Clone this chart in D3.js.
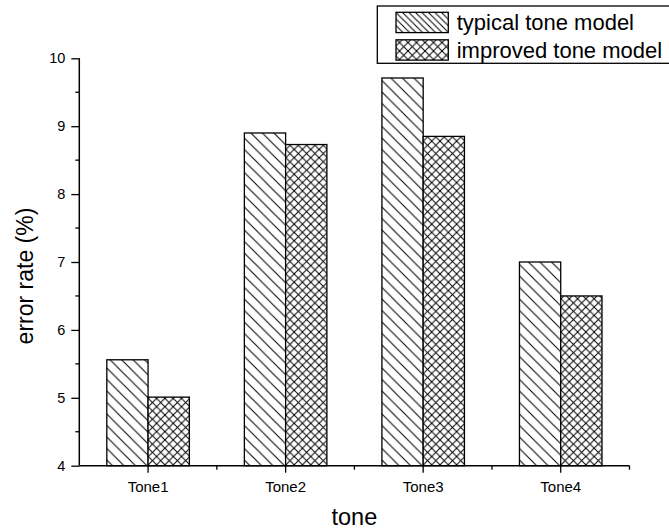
<!DOCTYPE html>
<html>
<head>
<meta charset="utf-8">
<script src="https://cdn.jsdelivr.net/npm/d3@7"></script>
<style>
  html, body { margin: 0; padding: 0; background: #fff; }
  svg { display: block; font-family: Arial, "Liberation Sans", sans-serif; }
</style>
</head>
<body>
<svg id="chart" width="669" height="528"></svg>
<script>
// Error rate (%) per tone for the two models
const categories = ["Tone1", "Tone2", "Tone3", "Tone4"];
const seriesNames = ["typical tone model", "improved tone model"];
const typicalValues = [5.56, 8.90, 9.71, 7.00];
const improvedValues = [5.01, 8.73, 8.85, 6.50];
const yTicks = [4, 5, 6, 7, 8, 9, 10];

const rows = categories.map((c, i) => ({
  cat: c,
  vals: [
    { key: seriesNames[0], v: typicalValues[i], pat: "hatch" },
    { key: seriesNames[1], v: improvedValues[i], pat: "cross" }
  ]
}));

const svg = d3.select("#chart");
const plotLeft = 79.3, plotRight = 629.5, plotTop = 58.3, plotBottom = 465.7;

const x = d3.scaleBand().domain(categories).range([plotLeft, plotRight])
  .paddingInner(0.4).paddingOuter(0.2);
const xs = d3.scaleBand().domain(seriesNames).range([0, x.bandwidth()]);
const y = d3.scaleLinear().domain([4, 10]).range([plotBottom, plotTop]);

// Fill patterns: back-diagonal hatch and diagonal cross-hatch
const defs = svg.append("defs");
function hatch(id, size, cross) {
  const p = defs.append("pattern").attr("id", id)
    .attr("patternUnits", "userSpaceOnUse")
    .attr("width", size).attr("height", size);
  p.append("rect").attr("width", size).attr("height", size).attr("fill", "#fff");
  const g = p.append("g").attr("stroke", "#000").attr("stroke-width", 1);
  // "\" lines
  g.append("line").attr("x1", -1).attr("y1", -1).attr("x2", size + 1).attr("y2", size + 1);
  g.append("line").attr("x1", -1 - size).attr("y1", -1).attr("x2", 1).attr("y2", size + 1);
  g.append("line").attr("x1", size - 1).attr("y1", -1).attr("x2", 2 * size + 1).attr("y2", size + 1);
  if (cross) {
    g.append("line").attr("x1", size + 1).attr("y1", -1).attr("x2", -1).attr("y2", size + 1);
    g.append("line").attr("x1", 2 * size + 1).attr("y1", -1).attr("x2", size - 1).attr("y2", size + 1);
    g.append("line").attr("x1", 1).attr("y1", -1).attr("x2", -size - 1).attr("y2", size + 1);
  }
}
hatch("hatch", 11.5, false);
hatch("cross", 8.3, true);
hatch("hatchLeg", 6.5, false);
hatch("crossLeg", 8.5, true);

// Bars
const groups = svg.append("g").selectAll("g").data(rows).join("g")
  .attr("transform", d => `translate(${x(d.cat)},0)`);
groups.selectAll("rect").data(d => d.vals).join("rect")
  .attr("x", d => xs(d.key))
  .attr("y", d => y(d.v))
  .attr("width", xs.bandwidth())
  .attr("height", d => y(4) - y(d.v))
  .attr("fill", d => `url(#${d.pat})`)
  .attr("stroke", "#000")
  .attr("stroke-width", 1.3);

// Y axis
const yAxis = svg.append("g").attr("transform", `translate(${plotLeft},0)`)
  .call(d3.axisLeft(y).tickValues(yTicks).tickSize(8).tickPadding(6).tickFormat(d3.format("d")));
yAxis.select(".domain").attr("d", `M0,${plotTop}V${plotBottom}`).attr("stroke-width", 1.5);
yAxis.selectAll(".tick line").attr("stroke-width", 1.3);
yAxis.selectAll("text").attr("font-size", 14.5).attr("fill", "#000");
// minor y ticks at half units
yAxis.selectAll(".minor").data(d3.range(4.5, 10, 1)).join("line")
  .attr("class", "minor")
  .attr("x1", -4).attr("x2", 0)
  .attr("y1", d => y(d)).attr("y2", d => y(d))
  .attr("stroke", "#000").attr("stroke-width", 1.3);

// X axis
const xAxis = svg.append("g").attr("transform", `translate(0,${plotBottom})`)
  .call(d3.axisBottom(x).tickSize(7).tickPadding(9));
xAxis.select(".domain").attr("d", `M${plotLeft},0H${plotRight}`).attr("stroke-width", 1.5);
xAxis.selectAll(".tick line").attr("stroke-width", 1.3);
xAxis.selectAll("text").attr("font-size", 15).attr("fill", "#000");
// minor x ticks at category boundaries
const bounds = categories.slice(1).map(c => x(c) - x.step() * x.paddingInner() / 2);
bounds.push(plotRight);
xAxis.selectAll(".minor").data(bounds).join("line")
  .attr("class", "minor")
  .attr("x1", d => d).attr("x2", d => d)
  .attr("y1", 0).attr("y2", 4)
  .attr("stroke", "#000").attr("stroke-width", 1.3);

// Axis titles
svg.append("text")
  .attr("x", (plotLeft + plotRight) / 2).attr("y", 524.5)
  .attr("text-anchor", "middle").attr("font-size", 23.5)
  .text("tone");
svg.append("text")
  .attr("transform", "translate(33,276) rotate(-90)")
  .attr("text-anchor", "middle").attr("font-size", 23)
  .text("error rate (%)");

// Legend
const leg = svg.append("g");
leg.append("rect").attr("x", 377.3).attr("y", 6).attr("width", 330).attr("height", 57.3)
  .attr("fill", "#fff").attr("stroke", "#000").attr("stroke-width", 1.3);
const legItems = [
  { name: seriesNames[0], pat: "hatchLeg", y0: 12.3 },
  { name: seriesNames[1], pat: "crossLeg", y0: 39.8 }
];
const li = leg.selectAll("g.item").data(legItems).join("g").attr("class", "item");
li.append("rect")
  .attr("x", 396).attr("y", d => d.y0).attr("width", 52.3).attr("height", 20.3)
  .attr("fill", d => `url(#${d.pat})`).attr("stroke", "#000").attr("stroke-width", 1.3);
li.append("text")
  .attr("x", 456.7).attr("y", d => d.y0 + 18)
  .attr("font-size", 22).attr("fill", "#000")
  .text(d => d.name);
</script>
</body>
</html>
